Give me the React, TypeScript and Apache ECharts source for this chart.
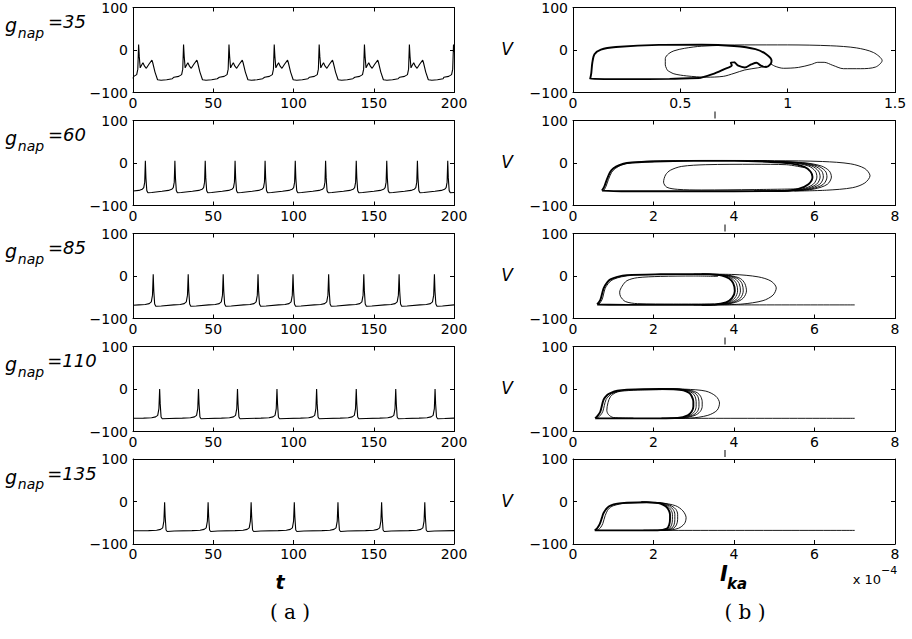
import React, { useEffect, useRef } from "react";
import * as echarts from "echarts";

// ---------- Data ----------
const gnapValues = ["35", "60", "85", "110", "135"];
const tTicks = { min: 0, max: 200, interval: 50 };
const vTicks = { min: -100, max: 100, interval: 100 };
const ikaRange1 = { min: 0, max: 1.5, interval: 0.5 };
const ikaRange = { min: 0, max: 8, interval: 2 };

// spike times (ms) for each g_nap
const spikes35 = [3.5, 31.5, 59.8, 88.0, 116.0, 144.2, 172.2, 199.7];
const spikes60 = [7.7, 26.1, 45.0, 63.6, 82.3, 101.1, 120.0, 139.1, 158.1, 177.2, 196.1];
const spikes85 = [12.6, 34.4, 56.2, 77.9, 99.7, 121.9, 143.8, 165.8, 187.8];
const spikes110 = [16.6, 40.8, 65.1, 89.7, 114.4, 139.1, 163.7, 188.2];
const spikes135 = [19.7, 46.8, 73.6, 100.5, 127.7, 154.9, 181.8];

// waveform around each spike: [time offset, V]
const wave35 = [[-6, -64], [-3, -62], [-1.2, -58], [-0.5, -45], [0, 13], [0.4, -15], [1.0, -42], [1.8, -36], [2.7, -30], [3.7, -38], [4.8, -43], [6.5, -33], [8.3, -24], [8.8, -30], [10.2, -52], [11.8, -70], [14, -71], [17.5, -70], [21, -67.5]];
const wave60 = [[-8, -66.5], [-4, -64.5], [-2, -62], [-1, -58], [-0.4, -45], [0, 5], [0.35, -35], [0.9, -65], [1.6, -70], [4, -69.5]];
const wave85 = [[-9, -68], [-5, -67], [-2.5, -65], [-1.2, -61], [-0.45, -45], [0, 4], [0.35, -35], [0.9, -66], [1.6, -71], [5, -70.5]];
const wave110 = [[-10, -68.5], [-5, -67.5], [-2.5, -65.5], [-1.2, -62], [-0.45, -46], [0, 0], [0.35, -35], [0.9, -66], [1.6, -70], [6, -69.5]];
const wave135 = [[-10, -68.5], [-5, -67.5], [-2.5, -65.5], [-1.2, -62], [-0.45, -46], [0, -2], [0.35, -36], [0.9, -67], [1.6, -70.5], [6, -69.5]];

const startV = [-67, -66, -69, -69, -69];
const endV = [-5, -69.5, -68, -68.5, -68.5];

// phase portraits: [I_ka (x1e-4), V]
const ph35Main = [[0.59, -66], [0.45, -68], [0.25, -68.5], [0.08, -68], [0.085, -55], [0.09, -30], [0.1, -10], [0.13, 1], [0.2, 7], [0.4, 12], [0.6, 12.5], [0.75, 9.5], [0.85, 2], [0.9, -10], [0.925, -25], [0.92, -33], [0.9, -40], [0.875, -37], [0.855, -30], [0.83, -34], [0.8, -41], [0.77, -37], [0.75, -29], [0.735, -30], [0.74, -36], [0.7, -46], [0.65, -57], [0.59, -66]];
const ph35Outer = [[0.44, -48], [0.43, -35], [0.43, -20], [0.445, -9], [0.47, -2], [0.52, 4], [0.6, 9], [0.8, 12], [1.0, 12], [1.2, 10], [1.32, 5], [1.4, -6], [1.44, -25], [1.41, -40], [1.34, -44], [1.26, -44], [1.21, -36], [1.17, -29], [1.14, -29], [1.11, -34], [1.05, -41], [0.98, -43], [0.94, -38], [0.92, -32]];
const ph35Inner = [[0.44, -48], [0.47, -56], [0.53, -61], [0.62, -64], [0.7, -62], [0.75, -55], [0.8, -47], [0.86, -42], [0.9, -38]];

const ph60Main = [[0.72, -65], [0.78, -55], [0.84, -39], [0.92, -22], [1.0, -13], [1.15, -5], [1.34, 0], [2, 3.5], [3, 5], [4, 5], [4.8, 3], [5.4, -1], [5.75, -9], [5.9, -20], [5.95, -33], [5.85, -50], [5.6, -61], [5.2, -65.5], [4, -66.5], [2.5, -66.5], [1.2, -66.5], [0.72, -65]];
const ph60Side = [[0.76, -66], [0.82, -55], [0.88, -39], [0.96, -22], [1.05, -13], [1.2, -5], [1.4, 0], [2, 3]];
const ph60N1 = [[4.5, 4.5], [5.4, 1], [5.85, -7], [6.02, -19], [6.06, -33], [5.97, -50], [5.7, -61], [5.25, -65.5], [4.5, -66.5]];
const ph60N2 = [[4.5, 4.5], [5.48, 1], [5.93, -7], [6.1, -19], [6.14, -33], [6.05, -50], [5.77, -61], [5.3, -65.5], [4.5, -66.5]];
const ph60N3 = [[4.5, 4.5], [5.55, 1], [6.0, -7], [6.18, -19], [6.22, -33], [6.13, -50], [5.84, -61], [5.36, -65.5], [4.5, -66.5]];
const ph60N4 = [[4.5, 4.5], [5.62, 1], [6.08, -7], [6.27, -19], [6.31, -33], [6.22, -50], [5.92, -61], [5.42, -65.5], [4.5, -66.5]];
const ph60N5 = [[4.5, 4.5], [5.7, 1], [6.17, -7], [6.37, -19], [6.42, -33], [6.32, -50], [6.0, -61], [5.5, -65.5], [4.5, -66.5]];
const ph60Outer = [[1.0, -12], [1.3, -1], [2, 4.5], [3.5, 6], [5, 5.5], [6.2, 3.5], [6.9, -2], [7.25, -13], [7.38, -30], [7.25, -47], [6.95, -58], [6.3, -64], [5.5, -66]];
const ph60Inner = [[5.6, -61], [4.5, -62.5], [3.2, -63.5], [2.6, -62], [2.33, -57], [2.25, -45], [2.3, -28], [2.42, -17], [2.7, -8], [3.3, -4], [4.5, -3], [5.3, -4], [5.75, -11]];

const ph85Main = [[0.6, -67], [0.68, -56], [0.76, -29], [0.85, -15], [0.93, -8], [1.1, -2], [1.34, 2], [2.17, 4], [3.0, 4.5], [3.4, 4], [3.7, 1], [3.88, -6], [3.98, -17], [4.02, -35], [3.95, -52], [3.8, -62], [3.5, -67], [2.99, -68], [1.5, -68], [0.6, -67]];
const ph85Side = [[0.63, -68], [0.72, -56], [0.8, -29], [0.9, -15], [1.0, -8], [1.2, -2], [1.5, 2], [2.2, 3.5]];
const ph85N1 = [[3.2, 4.3], [3.75, 1], [3.95, -6], [4.06, -18], [4.09, -35], [4.02, -52], [3.86, -62], [3.55, -67], [3.2, -68]];
const ph85N2 = [[3.2, 4.3], [3.8, 1], [4.02, -6], [4.13, -18], [4.16, -35], [4.09, -52], [3.92, -62], [3.6, -67], [3.2, -68]];
const ph85N3 = [[3.2, 4.3], [3.85, 1], [4.09, -6], [4.2, -18], [4.23, -35], [4.16, -52], [3.98, -62], [3.65, -67], [3.2, -68]];
const ph85N4 = [[3.2, 4.3], [3.9, 1], [4.16, -6], [4.27, -18], [4.31, -35], [4.23, -52], [4.04, -62], [3.7, -67], [3.2, -68]];
const ph85Outer = [[3.0, 4.5], [4.0, 3.5], [4.6, -2], [4.92, -12], [5.05, -28], [4.97, -45], [4.72, -58], [4.2, -66], [3.5, -68]];
const ph85Flat = [[7.0, -68], [3.0, -68]];
const ph85Inner = [[3.5, -66], [2.5, -66], [1.6, -65], [1.3, -60], [1.18, -48], [1.16, -38], [1.22, -24], [1.34, -11], [1.6, -4], [2.17, -1], [3, 0], [3.6, -1]];

const ph110Main = [[0.55, -69], [0.62, -62], [0.68, -53], [0.76, -25], [0.85, -14], [0.93, -9.5], [1.1, -4], [1.34, -1.5], [2.17, 0], [2.5, -0.5], [2.74, -3], [2.88, -9], [2.95, -17], [2.99, -30], [2.99, -41], [2.95, -53], [2.85, -62], [2.6, -68], [2.17, -69], [1.2, -69], [0.55, -69]];
const ph110Side = [[0.6, -69], [0.68, -62], [0.74, -53], [0.82, -25], [0.92, -14], [1.0, -9.5], [1.2, -4], [1.45, -1.5], [2.17, -0.5]];
const ph110N1 = [[2.2, 0], [2.6, -0.5], [2.82, -3.5], [2.96, -9], [3.03, -17], [3.06, -30], [3.06, -41], [3.02, -53], [2.91, -62], [2.65, -68], [2.2, -69]];
const ph110N2 = [[2.2, 0], [2.64, -0.5], [2.88, -3.5], [3.02, -9], [3.1, -17], [3.13, -30], [3.13, -41], [3.09, -53], [2.97, -62], [2.7, -68], [2.2, -69]];
const ph110N3 = [[2.2, 0], [2.68, -0.5], [2.94, -3.5], [3.09, -9], [3.17, -17], [3.21, -30], [3.21, -41], [3.16, -53], [3.03, -62], [2.75, -68], [2.2, -69]];
const ph110Outer = [[2.2, 0.5], [2.8, -0.5], [3.3, -5], [3.55, -17], [3.64, -33], [3.58, -50], [3.35, -62], [2.9, -68.5], [2.4, -69]];
const ph110Flat = [[7.0, -69], [2.5, -69]];
const ph110Inner = [[1.5, -68.5], [1.0, -67], [0.88, -60], [0.84, -50], [0.87, -32], [0.93, -18], [1.05, -9], [1.17, -5.5], [1.6, -2.5], [2.2, -1.5]];

const ph135Main = [[0.54, -68], [0.6, -63], [0.66, -54], [0.72, -38], [0.76, -27], [0.85, -15], [0.93, -9.5], [1.1, -5], [1.34, -3], [1.83, -1.6], [2.05, -3], [2.17, -5], [2.3, -11], [2.37, -19], [2.41, -30], [2.41, -42], [2.39, -55], [2.33, -64], [2.1, -68], [1.75, -68], [1.0, -68], [0.54, -68]];
const ph135Side = [[0.6, -68], [0.68, -62], [0.74, -52], [0.8, -33], [0.88, -18], [1.0, -10], [1.3, -4], [1.8, -2]];
const ph135N1 = [[1.7, -1.5], [2.08, -3], [2.21, -5], [2.35, -11], [2.43, -19], [2.47, -30], [2.47, -42], [2.45, -55], [2.38, -64], [2.12, -68], [1.75, -68]];
const ph135N2 = [[1.7, -1.5], [2.1, -3], [2.25, -5], [2.4, -11], [2.49, -19], [2.53, -30], [2.53, -42], [2.51, -55], [2.43, -64], [2.15, -68], [1.75, -68]];
const ph135N3 = [[1.7, -1.5], [2.13, -3], [2.3, -5], [2.46, -11], [2.56, -19], [2.6, -30], [2.6, -42], [2.57, -55], [2.48, -64], [2.18, -68], [1.75, -68]];
const ph135Outer = [[1.7, -1.5], [2.2, -3.5], [2.55, -10], [2.73, -22], [2.81, -38], [2.77, -52], [2.62, -63], [2.3, -68], [1.9, -68]];
const ph135Flat = [[7.0, -68], [2.0, -68]];

// ---------- Layout ----------
const TOPS = [7.5, 120.5, 233.5, 346.5, 459];
const PH = 85;
const LX = 133, LW = 321;
const RX = 573, RW = 322;
const FONT = "DejaVu Sans, Liberation Sans, Arial, sans-serif";
const SERIF = "DejaVu Serif, Liberation Serif, serif";

const spikeSets = [spikes35, spikes60, spikes85, spikes110, spikes135];
const waveSets = [wave35, wave60, wave85, wave110, wave135];

const phaseSets: { d: number[][]; thick: boolean }[][] = [
  [{ d: ph35Outer, thick: false }, { d: ph35Inner, thick: false }, { d: ph35Main, thick: true }],
  [{ d: ph60Outer, thick: false }, { d: ph60Inner, thick: false }, { d: ph60N1, thick: false }, { d: ph60N2, thick: false }, { d: ph60N3, thick: false }, { d: ph60N4, thick: false }, { d: ph60N5, thick: false }, { d: ph60Side, thick: false }, { d: ph60Main, thick: true }],
  [{ d: ph85Flat, thick: false }, { d: ph85Outer, thick: false }, { d: ph85Inner, thick: false }, { d: ph85N1, thick: false }, { d: ph85N2, thick: false }, { d: ph85N3, thick: false }, { d: ph85N4, thick: false }, { d: ph85Side, thick: false }, { d: ph85Main, thick: true }],
  [{ d: ph110Flat, thick: false }, { d: ph110Outer, thick: false }, { d: ph110Inner, thick: false }, { d: ph110N1, thick: false }, { d: ph110N2, thick: false }, { d: ph110N3, thick: false }, { d: ph110Side, thick: false }, { d: ph110Main, thick: true }],
  [{ d: ph135Flat, thick: false }, { d: ph135Outer, thick: false }, { d: ph135N1, thick: false }, { d: ph135N2, thick: false }, { d: ph135N3, thick: false }, { d: ph135Side, thick: false }, { d: ph135Main, thick: true }],
];

function buildTrace(spikes: number[], wave: number[][], v0: number, v1: number) {
  const pts: number[][] = [[0, v0]];
  for (const s of spikes) {
    for (const [dt, v] of wave) {
      const t = s + dt;
      if (t > 0 && t < 200) pts.push([t, v]);
    }
  }
  pts.push([200, v1]);
  return pts;
}

const fmt = (v: number) => String(v).replace("-", "\u2212");

function makeAxesX(gridIndex: number, r: { min: number; max: number; interval: number }) {
  const common = {
    gridIndex,
    type: "value" as const,
    min: r.min,
    max: r.max,
    interval: r.interval,
    splitLine: { show: false },
    axisLine: { show: true, onZero: false, lineStyle: { color: "#000", width: 1 } },
    axisTick: { show: true, inside: true, length: 4, lineStyle: { color: "#000" } },
  };
  return [
    {
      ...common,
      position: "bottom",
      axisLabel: { show: true, color: "#000", fontFamily: FONT, fontSize: 14, margin: 3, formatter: fmt, showMinLabel: true, showMaxLabel: true },
    },
    { ...common, position: "top", axisLabel: { show: false } },
  ];
}

function makeAxesY(gridIndex: number) {
  const common = {
    gridIndex,
    type: "value" as const,
    min: vTicks.min,
    max: vTicks.max,
    interval: vTicks.interval,
    splitLine: { show: false },
    axisLine: { show: true, onZero: false, lineStyle: { color: "#000", width: 1 } },
    axisTick: { show: true, inside: true, length: 4, lineStyle: { color: "#000" } },
  };
  return [
    {
      ...common,
      position: "left",
      axisLabel: { show: true, color: "#000", fontFamily: FONT, fontSize: 14, margin: 5, formatter: fmt, showMinLabel: true, showMaxLabel: true },
    },
    { ...common, position: "right", axisLabel: { show: false } },
  ];
}

function buildOption() {
  const grid: any[] = [];
  const xAxis: any[] = [];
  const yAxis: any[] = [];
  const series: any[] = [];
  const graphic: any[] = [];

  for (let i = 0; i < 5; i++) {
    const gl = 2 * i;
    const gr = 2 * i + 1;
    grid.push({ left: LX, top: TOPS[i], width: LW, height: PH, containLabel: false });
    grid.push({ left: RX, top: TOPS[i], width: RW, height: PH, containLabel: false });
    xAxis.push(...makeAxesX(gl, tTicks));
    yAxis.push(...makeAxesY(gl));
    xAxis.push(...makeAxesX(gr, i === 0 ? ikaRange1 : ikaRange));
    yAxis.push(...makeAxesY(gr));

    series.push({
      type: "line",
      xAxisIndex: 2 * gl,
      yAxisIndex: 2 * gl,
      data: buildTrace(spikeSets[i], waveSets[i], startV[i], endV[i]),
      showSymbol: false,
      silent: true,
      clip: true,
      lineStyle: { color: "#000", width: 1.1 },
    });

    for (const p of phaseSets[i]) {
      series.push({
        type: "line",
        xAxisIndex: 2 * gr,
        yAxisIndex: 2 * gr,
        data: p.d,
        showSymbol: false,
        silent: true,
        clip: true,
        smooth: 0.3,
        lineStyle: { color: "#000", width: p.thick ? 1.9 : 0.9 },
      });
    }

    const dy = TOPS[i] - TOPS[0];
    const eqCenter = gnapValues[i].length > 2 ? 72 : 67;
    graphic.push(
      { type: "text", x: 11, y: 25 + dy, style: { text: "g", fontFamily: FONT, fontStyle: "italic", fontSize: 19, fill: "#000", align: "center", verticalAlign: "middle" } },
      { type: "text", x: 31, y: 32.5 + dy, style: { text: "nap", fontFamily: FONT, fontStyle: "italic", fontSize: 14, fill: "#000", align: "center", verticalAlign: "middle" } },
      { type: "text", x: eqCenter, y: 21.5 + dy, style: { text: "=" + gnapValues[i], fontFamily: FONT, fontStyle: "italic", fontSize: 18, fill: "#000", align: "center", verticalAlign: "middle" } },
      { type: "text", x: 507, y: TOPS[i] + 41.5, style: { text: "V", fontFamily: FONT, fontStyle: "italic", fontSize: 17, fill: "#000", align: "center", verticalAlign: "middle" } }
    );
    if (i < 4) {
      const mx = i === 0 ? 715 : 725;
      graphic.push({ type: "line", shape: { x1: mx, y1: TOPS[i + 1] - 9, x2: mx, y2: TOPS[i + 1] - 2 }, style: { stroke: "#000", lineWidth: 1 } });
    }
  }

  graphic.push(
    { type: "text", x: 280, y: 582, style: { text: "t", fontFamily: FONT, fontStyle: "italic", fontWeight: "bold", fontSize: 19, fill: "#000", align: "center", verticalAlign: "middle" } },
    { type: "text", x: 724, y: 574, style: { text: "I", fontFamily: FONT, fontStyle: "italic", fontWeight: "bold", fontSize: 21, fill: "#000", align: "center", verticalAlign: "middle" } },
    { type: "text", x: 737, y: 584, style: { text: "ka", fontFamily: FONT, fontStyle: "italic", fontWeight: "bold", fontSize: 15, fill: "#000", align: "center", verticalAlign: "middle" } },
    { type: "text", x: 881, y: 579, style: { text: "x 10", fontFamily: FONT, fontSize: 13, fill: "#000", align: "right", verticalAlign: "middle" } },
    { type: "text", x: 881, y: 570, style: { text: "\u22124", fontFamily: FONT, fontSize: 11, fill: "#000", align: "left", verticalAlign: "middle" } },
    { type: "text", x: 290, y: 612, style: { text: "( a )", fontFamily: SERIF, fontSize: 20, fill: "#000", align: "center", verticalAlign: "middle" } },
    { type: "text", x: 745, y: 612, style: { text: "( b )", fontFamily: SERIF, fontSize: 20, fill: "#000", align: "center", verticalAlign: "middle" } }
  );

  return {
    animation: false,
    backgroundColor: "#fff",
    grid,
    xAxis,
    yAxis,
    series,
    graphic,
  };
}

export default function App() {
  const ref = useRef<HTMLDivElement>(null);
  useEffect(() => {
    if (!ref.current) return;
    const chart = echarts.init(ref.current, undefined, { renderer: "svg" });
    chart.setOption(buildOption() as any);
    return () => chart.dispose();
  }, []);
  return (
    <div
      ref={ref}
      style={{ position: "fixed", left: 0, top: 0, width: 912, height: 639, background: "#fff" }}
    />
  );
}
